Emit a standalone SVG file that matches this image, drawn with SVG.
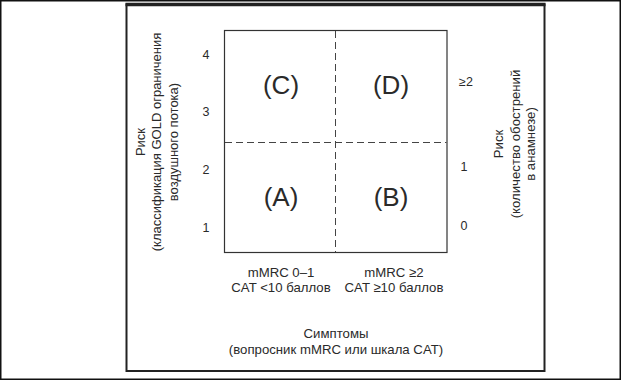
<svg xmlns="http://www.w3.org/2000/svg" width="621" height="380" viewBox="0 0 621 380">
<style>
text{font-family:"Liberation Sans",Arial,sans-serif;fill:#2a2a2a;}
.t{font-size:13.2px;text-anchor:middle;}
.r{font-size:13px;text-anchor:middle;}
.q{font-size:26px;text-anchor:middle;}
.tick{font-size:12.5px;text-anchor:middle;}
.dash{stroke:#444;stroke-width:1;stroke-dasharray:7 4;fill:none;}
</style>
<rect x="0.75" y="0.75" width="619.5" height="378.5" fill="#fff" stroke="#111" stroke-width="1.5"/>
<g id="frame">
<rect x="126.5" y="4.5" width="418" height="366.5" fill="none" stroke="#222" stroke-width="2"/>
<line x1="125.5" y1="4.5" x2="545.5" y2="4.5" stroke="#222" stroke-width="3.5"/>
</g>
<g id="chart">
<rect x="224.5" y="30.5" width="222.5" height="222" fill="none" stroke="#333" stroke-width="1.2"/>
</g>
<g id="connectors">
<line class="dash" x1="335.5" y1="31" x2="335.5" y2="252"/>
<line class="dash" x1="225" y1="142.5" x2="446.5" y2="142.5"/>
</g>
<g id="quadC"><text class="q" x="281" y="94">(C)</text></g>
<g id="quadD"><text class="q" x="391" y="94">(D)</text></g>
<g id="quadA"><text class="q" x="281" y="206">(A)</text></g>
<g id="quadB"><text class="q" x="391" y="206">(B)</text></g>
<g id="leftTicks">
<text class="tick" x="206" y="59">4</text>
<text class="tick" x="206" y="116">3</text>
<text class="tick" x="206" y="174">2</text>
<text class="tick" x="206" y="232">1</text>
</g>
<g id="rightTicks">
<text class="tick" x="466" y="86">≥2</text>
<text class="tick" x="464" y="171">1</text>
<text class="tick" x="464" y="230">0</text>
</g>
<g id="leftAxis" transform="translate(157,142) rotate(-90)">
<text class="r" x="0" y="-12.5">Риск</text>
<text class="r" x="0" y="4">(классификация GOLD ограничения</text>
<text class="r" x="0" y="20.5">воздушного потока)</text>
</g>
<g id="rightAxis" transform="translate(515,144) rotate(-90)">
<text class="t" x="0" y="-12">Риск</text>
<text class="t" x="0" y="4.5">(количество обострений</text>
<text class="t" x="0" y="20">в анамнезе)</text>
</g>
<g id="xLabels">
<text class="t" x="281" y="277">mMRC 0–1</text>
<text class="t" x="281" y="292">CAT &lt;10 баллов</text>
<text class="t" x="394" y="277">mMRC ≥2</text>
<text class="t" x="394" y="292">CAT ≥10 баллов</text>
</g>
<g id="xAxis">
<text class="t" x="336" y="338">Симптомы</text>
<text class="t" x="336" y="354">(вопросник mMRC или шкала CAT)</text>
</g>
</svg>
